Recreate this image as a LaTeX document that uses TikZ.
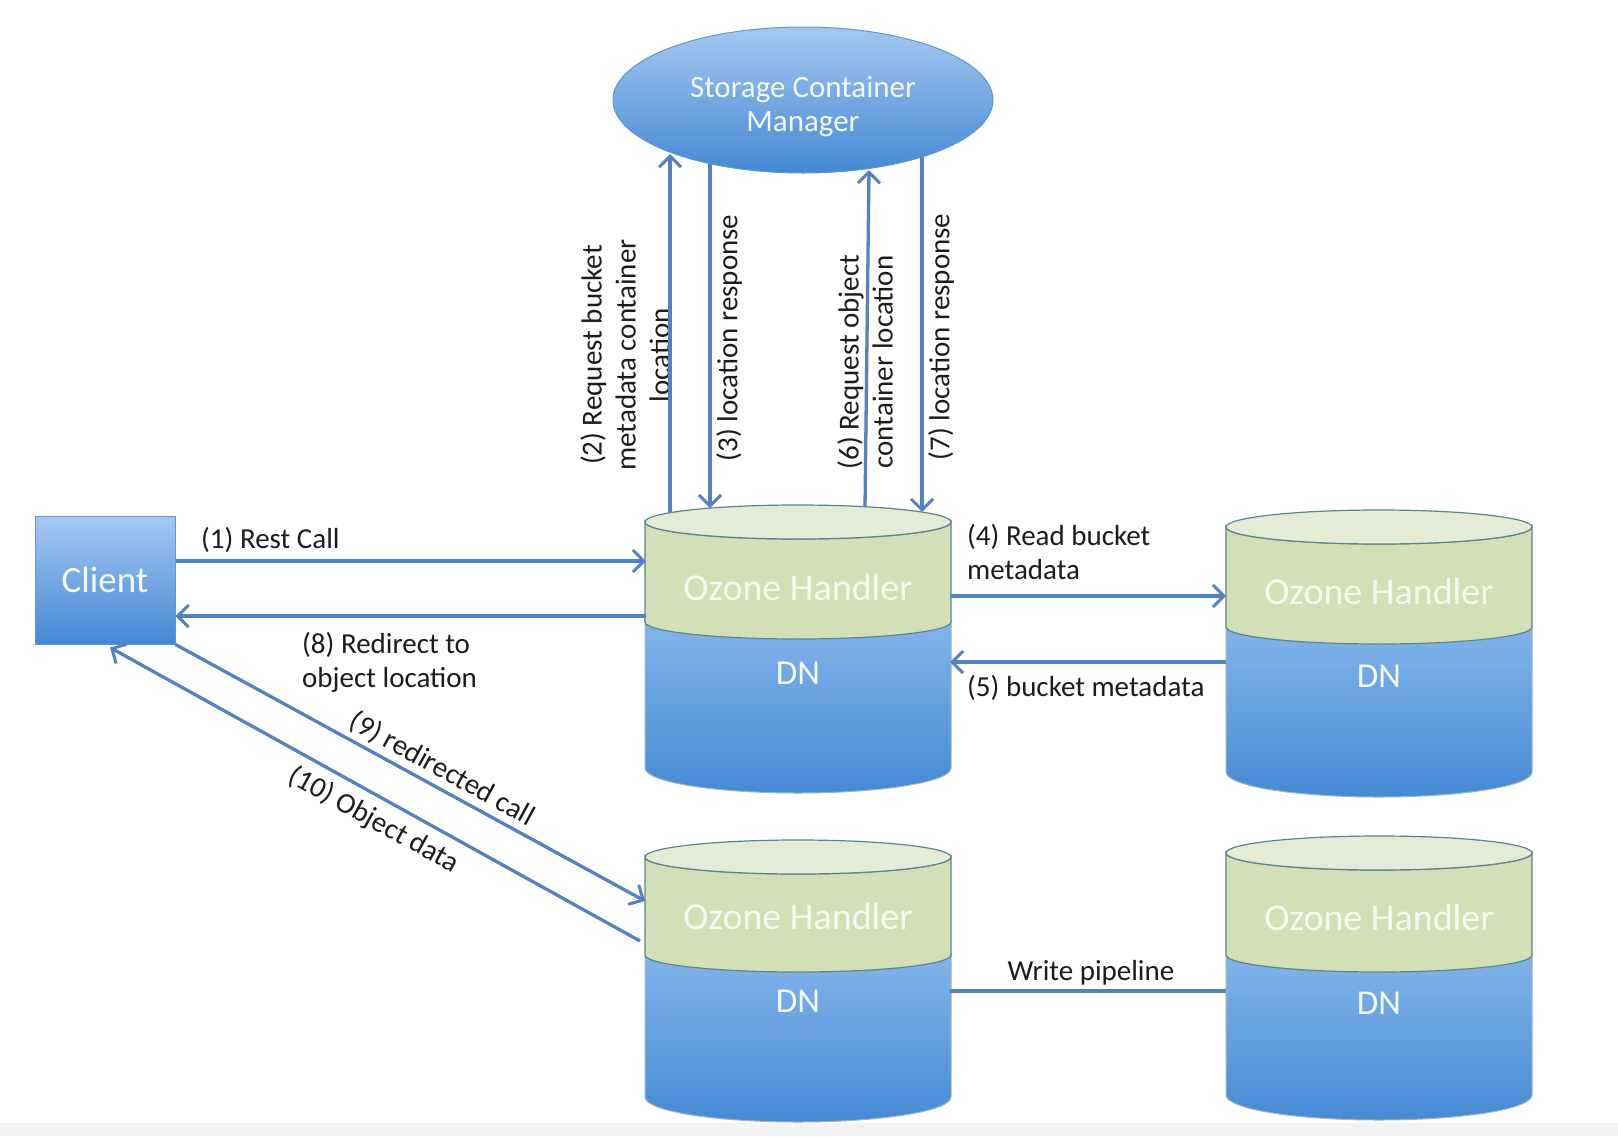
\documentclass[tikz,border=0pt]{standalone}
\usepackage{fontspec}
\setmainfont{Carlito}
\usetikzlibrary{arrows.meta,shapes.geometric}
\definecolor{arrowc}{RGB}{84,130,190}
\definecolor{labelc}{RGB}{28,28,28}
\definecolor{cantop}{RGB}{228,236,214}
\definecolor{cangreen}{RGB}{211,223,183}
\definecolor{canedge}{RGB}{92,132,142}
\definecolor{canblueT}{RGB}{130,180,235}
\definecolor{canblueB}{RGB}{70,138,212}
\definecolor{boxT}{RGB}{165,200,242}
\definecolor{boxB}{RGB}{68,136,212}
\definecolor{boxedge}{RGB}{100,148,206}
\definecolor{ontext}{RGB}{246,249,240}
\definecolor{strip}{RGB}{243,243,243}

% #1 cx, #2 top ellipse centre y, #3 band boundary y, #4 bottom side y (pixel units, y downwards)
\newcommand{\drawcan}[4]{%
  \path[top color=canblueT, bottom color=canblueB, draw=canedge!60, line width=1pt]
    ({#1-153},{-#3}) arc[start angle=180,end angle=360,x radius=153pt,y radius=17pt]
    -- ({#1+153},{-#4}) arc[start angle=360,end angle=180,x radius=153pt,y radius=25pt] -- cycle;
  \path[fill=cangreen, draw=canedge, line width=1.2pt]
    ({#1-153},{-#2}) arc[start angle=180,end angle=360,x radius=153pt,y radius=17pt]
    -- ({#1+153},{-#3}) arc[start angle=360,end angle=180,x radius=153pt,y radius=17pt] -- cycle;
  \path[fill=cantop, draw=canedge, line width=1.2pt] (#1,{-#2}) ellipse[x radius=153pt, y radius=17pt];
}

\begin{document}
\begin{tikzpicture}[x=1pt,y=1pt,
  arr/.style={draw=arrowc, line width=3.3pt, -{Straight Barb[length=11pt,width=22pt,line width=3pt]}},
  plainline/.style={draw=arrowc, line width=3.3pt},
  lbl/.style={text=labelc, font=\fontsize{29}{34}\selectfont, inner sep=0pt},
  ohtext/.style={text=ontext, font=\fontsize{38}{44}\selectfont, inner sep=0pt},
  dntext/.style={text=ontext, font=\fontsize{35}{40}\selectfont, inner sep=0pt}]

\useasboundingbox (0,0) rectangle (1618,-1136);
\fill[white] (0,0) rectangle (1618,-1136);
\fill[strip] (0,-1123) rectangle (1618,-1136);

% Storage Container Manager
\node[ellipse, minimum width=380pt, minimum height=146pt, inner sep=0pt,
      top color=boxT, bottom color=boxB, draw=boxedge, line width=1pt] (scm) at (803,-100) {};
\node[text=ontext, align=center, font=\fontsize{31}{34}\selectfont, inner sep=0pt]
      (scmtext) at ([yshift=-6pt]scm.center) {Storage Container\\Manager};

% Client
\node[rectangle, minimum width=140pt, minimum height=128pt, inner sep=0pt,
      top color=boxT, bottom color=boxB, draw=boxedge, line width=1pt,
      text=ontext, font=\fontsize{37}{42}\selectfont] (client) at (105,-580) {Client};

% Cylinders
\drawcan{798}{522}{622}{768}
\drawcan{1379}{527}{627}{772}
\drawcan{798}{857}{955}{1097}
\drawcan{1379}{853}{955}{1095}

\node[ohtext] (Aoh) at (798,-587) {Ozone Handler};
\node[dntext] (Adn) at (798,-673) {DN};
\node[ohtext] (Boh) at (1379,-591) {Ozone Handler};
\node[dntext] (Bdn) at (1379,-676) {DN};
\node[ohtext] (Coh) at (798,-916) {Ozone Handler};
\node[dntext] (Cdn) at (798,-1001) {DN};
\node[ohtext] (Doh) at (1379,-917) {Ozone Handler};
\node[dntext] (Ddn) at (1379,-1003) {DN};

% connection points
\coordinate (A1) at (646,-561);
\coordinate (A8) at (646,-616);
\coordinate (A4) at (950,-596);
\coordinate (A5) at (950,-662);
\coordinate (B4) at (1226,-596);
\coordinate (B5) at (1226,-662);
\coordinate (C9) at (645,-901);
\coordinate (C10) at (640,-941);
\coordinate (Cw) at (950,-991);
\coordinate (Dw) at (1226,-991);
\coordinate (A2) at (670,-513);
\coordinate (S2) at (670,-154);
\coordinate (S3) at (710,-164);
\coordinate (A3) at (710,-508);
\coordinate (A6) at (865,-507);
\coordinate (S6) at (869,-170);
\coordinate (S7) at (922,-157);
\coordinate (A7) at (922,-512);

% vertical labels (drawn before arrows so lines cross them)
\node[lbl, rotate=90, align=center] (l2) at (625,-355) {(2) Request bucket\\metadata container\\location};
\node[lbl, rotate=90] (l3) at (729,-338) {(3) location response};
\node[lbl, rotate=90, align=center] (l6) at (865,-362) {(6) Request object\\container location};
\node[lbl, rotate=90] (l7) at (941,-337) {(7) location response};

% arrows
\draw[arr] ([yshift=19pt]client.east) -- (A1);
\draw[arr] (A8) -- ([yshift=-36pt]client.east);
\draw[arr] (A2) -- (S2);
\draw[arr] (S3) -- (A3);
\draw[arr] (A6) -- (S6);
\draw[arr] (S7) -- (A7);
\draw[arr] (A4) -- (B4);
\draw[arr] (B5) -- (A5);
\draw[arr] (client.south east) -- (C9);
\draw[arr] (C10) -- ([xshift=5pt,yshift=-3pt]client.south);
\draw[plainline] (Cw) -- (Dw);

% labels
\node[lbl, anchor=west] (l1) at (201,-540) {(1) Rest Call};
\node[lbl, anchor=west, align=left] (l8) at (302,-662) {(8) Redirect to\\object location};
\node[lbl, anchor=west, align=left] (l4) at (967,-552) {(4) Read bucket\\metadata};
\node[lbl, anchor=west] (l5) at (967,-688) {(5) bucket metadata};
\node[lbl] (lw) at (1091,-973) {Write pipeline};
\node[lbl, rotate=-28.8] (l9) at (442,-769) {(9) redirected call};
\node[lbl, rotate=-29] (l10) at (374,-820) {(10) Object data};

\end{tikzpicture}
\end{document}
